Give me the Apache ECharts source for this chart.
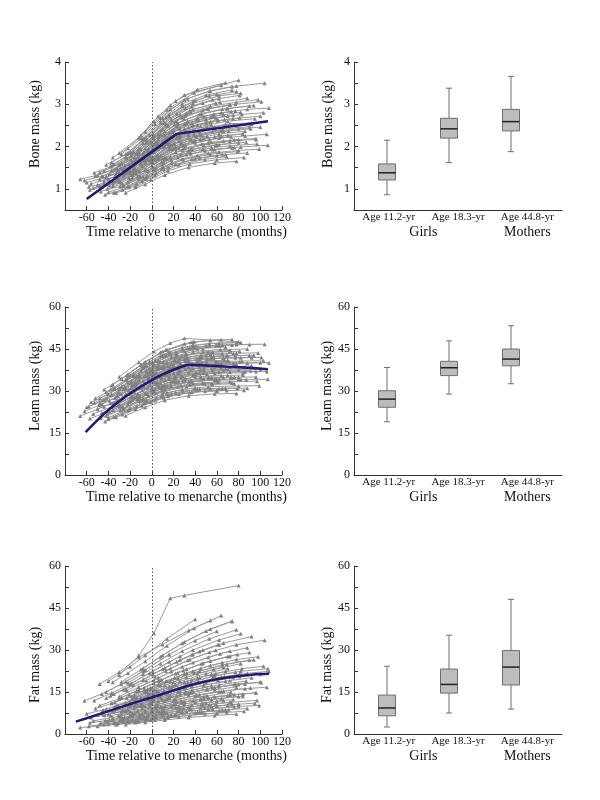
<!DOCTYPE html>
<html><head><meta charset="utf-8">
<script src="https://cdn.jsdelivr.net/npm/echarts@6/dist/echarts.min.js"></script>
<style>html,body{margin:0;padding:0;background:#fff}#c{width:600px;height:800px}</style>
</head><body><div id="c"></div>
<script>
// ---------- data ----------
const boxCategories = ['Age 11.2-yr', 'Age 18.3-yr', 'Age 44.8-yr'];
const groupLabels = {2: 'Girls', 5: 'Mothers'};

// measurement times (months relative to menarche), one row per girl
const girlTimes = [
[-60,-42,-24,-2,22],[-54,-36,-18,4,28,48],[-48,-30,-14,8,32],[-47,-29,-11,11,35,55],
[-44,-26,-8,14,38,58],[-42,-24,-6,16,40,60],[-40,-22,-4,18,42,62],[-39,-21,-3,19,43],
[-38,-20,-2,20,44,64],[-37,-19,-1,21,45,65],[-36,-18,0,22,46,66],[-35,-17,1,23,47],
[-34,-16,2,24,48,68],[-33,-15,3,25,49,69],[-32,-14,4,26,50,70],[-31,-13,5,27,51],
[-30,-12,6,28,52,72],[-29,-11,7,29,53,73],[-28,-10,8,30,54,74],[-27,-9,9,31,55],
[-26,-8,10,32,56,76],[-25,-7,11,33,57,77],[-24,-6,12,34,58,78],[-23,-5,13,35,59],
[-22,-4,14,36,60,80],[-21,-3,15,37,61,81],[-20,-2,16,38,62,82],[-18,0,18,40,64,84],
[-16,2,20,42,66],[-14,4,22,44,68,88],[-12,6,24,46,70,90],[-10,8,26,48,72,92],
[-8,10,28,50,74],[-6,12,30,52,76,96],[-4,14,32,54,78,98],[-2,16,34,56,80,100],
[1,19,37,59,83,103],[4,22,40,62,86,106],[6,24,42,64,88,108],[-52,-34,-16,6,30],
[-57,-39,-21,1,25],[-48,-30,-12,10,34,54],[-30,-12,2,17,30,80],[-24,-6,12,34,58,78],
[-50,-36,-20,0,25],[-45,-31,-15,5,30,55],[-41,-27,-11,9,34,59],[-38,-24,-8,12,37,62],
[-35,-21,-5,15,40,65],[-33,-19,-3,17,42,67],[-30,-16,0,20,45,70],[-28,-14,2,22,47,72],
[-26,-12,4,24,49,74],[-24,-10,6,26,51,76],[-22,-8,8,28,53,78],[-20,-6,10,30,55,80],
[-18,-4,12,32,57,82],[-15,-1,15,35,60,85],[-12,2,18,38,63,88],[-9,5,21,41,66,91],
[-6,8,24,44,69,94],[-3,11,27,47,72,97],[0,14,30,50,75,100],[3,17,33,53,78,104],
[8,22,38,58,84],[-62,-46,-28,-8,16],[-58,-44,-26,-6,18],[-66,-50,-32,-12,12],
[-40,-20,-6,14,40],[-5,10,28,52,80,99],[-36,-22,-6,14,39,64],[-16,0,16,36,62,86],
[-44,-28,-10,10,36],[10,26,44,66,92],
[-34,-20,-4,16,44],[-25,-11,5,25,50,75],[-46,-30,-14,6,31],[-19,-5,11,31,56,81],
[-13,1,17,37,62,87],[-7,9,25,45,70,95],[-43,-27,-9,11,37,60],[-53,-37,-19,1,26],
[-31,-15,1,21,46,71],[-10,6,22,42,68],[12,28,48,72,96],[-37,-23,-7,13,38],
[-21,-7,9,29,54,79],[-56,-40,-22,-2,23],[-1,15,31,51,77,101],[-29,-13,3,23,48,73],
[-42,-26,-8,12,38,61],[-17,-1,17,39,65,90],[2,18,36,58,82,107],[-48,-34,-18,2,27]
];
const boneValues = [
[1.15,1.28,1.46,1.88,2.30],[1.02,1.13,1.33,1.71,2.05,2.19],[1.39,1.58,1.86,2.38,2.78],[0.94,1.06,1.28,1.63,1.87,1.97],
[1.20,1.36,1.68,2.06,2.37,2.47],[1.57,1.82,2.21,2.76,3.09,3.24],[0.92,1.07,1.31,1.61,1.79,1.88],[1.35,1.58,1.94,2.38,2.64],
[1.18,1.38,1.69,2.07,2.28,2.38],[1.44,1.69,2.07,2.52,2.77,2.89],[1.07,1.26,1.55,1.87,2.06,2.13],[1.59,1.88,2.30,2.78,3.03],
[1.29,1.50,1.87,2.24,2.41,2.53],[0.90,1.07,1.32,1.57,1.70,1.76],[1.40,1.67,2.05,2.43,2.64,2.72],[1.21,1.44,1.77,2.08,2.25],
[1.56,1.88,2.29,2.69,2.89,2.99],[1.17,1.41,1.72,2.02,2.16,2.23],[1.82,2.19,2.67,3.11,3.32,3.42],[1.39,1.67,2.04,2.36,2.51],
[1.07,1.29,1.58,1.81,1.93,1.98],[1.55,1.88,2.28,2.60,2.77,2.84],[1.37,1.67,2.01,2.28,2.43,2.49],[1.72,2.10,2.53,2.85,3.03],
[1.16,1.43,1.71,1.93,2.04,2.09],[1.51,1.85,2.21,2.48,2.61,2.68],[1.86,2.28,2.71,3.02,3.20,3.26],[1.33,1.64,1.94,2.14,2.25,2.30],
[1.67,2.05,2.40,2.63,2.76],[1.12,1.37,1.58,1.73,1.81,1.85],[1.83,2.23,2.56,2.78,2.90,2.96],[1.60,1.99,2.27,2.42,2.54,2.56],
[2.19,2.67,3.01,3.22,3.34],[1.45,1.74,1.96,2.08,2.16,2.19],[2.09,2.50,2.78,2.95,3.05,3.11],[1.69,2.01,2.21,2.35,2.42,2.46],
[1.99,2.33,2.55,2.68,2.76,2.80],[1.67,1.94,2.09,2.20,2.25,2.29],[2.17,2.50,2.68,2.80,2.88,2.91],[1.31,1.47,1.75,2.23,2.65],
[0.98,1.08,1.27,1.62,1.97],[1.22,1.39,1.67,2.12,2.45,2.58],[1.85,2.21,2.60,2.98,3.22,3.57],[0.91,1.11,1.33,1.51,1.61,1.65],
[1.09,1.20,1.38,1.73,2.13],[1.30,1.44,1.68,2.11,2.53,2.71],[1.00,1.12,1.31,1.64,1.91,2.04],[1.55,1.75,2.08,2.56,2.95,3.13],
[0.91,1.04,1.24,1.51,1.71,1.81],[1.35,1.54,1.85,2.24,2.51,2.64],[1.19,1.37,1.64,1.96,2.17,2.27],[1.59,1.83,2.19,2.60,2.86,2.99],
[1.07,1.24,1.48,1.74,1.90,1.97],[1.41,1.60,1.95,2.23,2.46,2.52],[1.85,2.16,2.57,2.96,3.20,3.30],[1.23,1.45,1.72,1.96,2.10,2.17],
[1.63,1.91,2.26,2.55,2.72,2.81],[1.04,1.22,1.43,1.59,1.69,1.74],[1.94,2.27,2.62,2.88,3.05,3.14],[1.54,1.80,2.06,2.24,2.36,2.42],
[1.96,2.28,2.56,2.76,2.90,2.97],[1.41,1.63,1.81,1.94,2.02,2.06],[1.91,2.18,2.42,2.56,2.66,2.72],[2.54,2.88,3.13,3.31,3.43,3.50],
[1.78,1.98,2.12,2.23,2.30],[1.20,1.30,1.49,1.83,2.33],[1.05,1.13,1.30,1.62,2.04],[1.23,1.32,1.50,1.83,2.36],
[1.23,1.44,1.71,2.07,2.39],[1.29,1.52,1.71,1.84,1.91,1.94],[1.74,1.96,2.35,2.87,3.27,3.45],[1.40,1.67,1.95,2.16,2.30,2.36],
[1.43,1.62,1.94,2.42,2.82],[1.98,2.21,2.35,2.46,2.52],
[1.25,1.42,1.71,2.08,2.35],[1.50,1.73,2.07,2.42,2.64,2.74],[1.04,1.16,1.36,1.71,2.03],[1.85,2.17,2.57,2.91,3.11,3.21],
[1.29,1.51,1.75,1.94,2.05,2.10],[1.73,2.06,2.31,2.48,2.60,2.66],[0.86,0.98,1.18,1.47,1.70,1.79],[1.38,1.53,1.79,2.24,2.75],
[1.23,1.44,1.73,2.06,2.27,2.37],[2.27,2.72,3.08,3.35,3.51],[1.72,1.92,2.04,2.13,2.17],[1.63,1.83,2.18,2.69,3.07],
[1.07,1.24,1.48,1.69,1.82,1.88],[1.12,1.23,1.41,1.79,2.21],[2.12,2.48,2.73,2.89,3.00,3.06],[1.49,1.76,2.11,2.49,2.72,2.83],
[1.28,1.45,1.76,2.17,2.50,2.64],[1.44,1.73,2.04,2.28,2.41,2.47],[1.45,1.68,1.83,1.93,1.99,2.03],[1.07,1.18,1.36,1.71,2.08]
];
const leanValues = [
[24.2,27.2,31.1,36.5,40.5],[21.8,24.5,28.2,32.6,35.4,36.4],[27.4,31.1,35.2,40.3,43.2],[20.4,23.1,26.6,30.1,32.1,32.7],
[24.4,27.9,31.9,35.8,38.0,38.6],[29.6,34.0,38.8,43.3,45.7,46.3],[20.0,23.0,26.2,29.0,30.6,30.9],[26.5,30.4,34.6,38.3,40.1],
[25.6,29.0,33.4,36.4,38.4,38.3],[28.7,32.9,37.4,41.1,42.8,43.3],[23.2,26.7,30.2,33.1,34.5,34.8],[30.7,35.3,39.9,43.5,45.2],
[25.7,29.5,33.2,36.3,37.5,37.9],[20.6,23.6,26.6,28.9,30.0,30.2],[28.2,32.4,36.4,39.3,40.7,41.0],[25.2,29.0,32.4,35.0,36.1],
[30.8,35.3,39.4,42.5,43.8,44.1],[24.5,28.2,31.3,33.7,34.7,34.8],[34.3,39.4,43.8,46.9,48.1,48.4],[27.5,31.9,35.0,37.8,38.3],
[23.4,26.8,29.7,31.6,32.3,32.6],[30.9,35.3,38.9,41.5,42.4,42.7],[28.9,32.9,36.3,38.5,39.4,39.6],[34.2,39.1,42.8,45.4,46.3],
[25.3,28.9,31.5,33.4,34.0,34.1],[30.2,34.3,37.4,39.4,40.1,40.4],[35.6,40.5,44.0,46.4,47.1,47.3],[27.3,30.9,33.4,35.1,35.5,35.7],
[32.5,36.6,39.5,41.3,41.8],[24.5,27.4,29.4,30.6,31.0,31.0],[34.1,38.1,40.7,42.1,42.6,42.7],[31.3,35.2,37.0,38.5,38.6,39.0],
[38.3,42.4,44.8,46.1,46.4],[29.1,32.0,33.8,34.6,34.9,35.0],[36.7,40.1,42.1,43.1,43.5,43.6],[32.2,35.0,36.6,37.3,37.6,37.7],
[35.5,38.3,39.8,40.5,40.7,40.8],[32.6,35.0,36.2,36.7,36.9,37.0],[35.6,38.1,39.3,39.8,40.0,40.1],[27.4,30.9,35.5,40.8,44.3],
[20.2,22.7,26.1,30.4,33.4],[25.7,29.2,33.5,38.1,40.7,41.6],[35.1,40.3,44.1,47.1,48.8,47.6],[21.2,24.2,26.7,28.3,29.0,29.1],
[23.7,25.6,29.4,33.5,37.2],[26.7,29.5,33.3,38.0,41.3,42.4],[21.9,24.4,27.5,30.9,33.2,34.0],[30.5,34.0,38.3,42.7,45.5,46.3],
[20.8,23.2,26.1,28.8,30.5,30.9],[28.0,31.2,35.0,38.4,40.5,41.0],[24.8,27.7,30.9,33.7,35.2,35.6],[31.5,35.2,39.0,42.3,44.0,44.5],
[23.7,26.4,29.2,31.5,32.6,32.9],[28.9,32.1,35.3,37.8,39.2,39.6],[35.1,38.9,42.7,45.5,47.0,47.3],[26.3,29.1,31.8,33.8,34.7,34.9],
[32.1,35.4,38.4,40.6,41.6,41.9],[23.6,26.1,28.1,29.5,30.1,30.3],[36.0,39.3,42.1,44.1,44.8,45.0],[30.4,33.1,35.2,36.6,37.2,37.2],
[35.5,38.5,40.7,42.0,42.6,42.8],[28.4,30.4,32.0,32.9,33.3,33.5],[34.6,36.9,38.6,39.6,39.9,40.1],[40.9,43.4,45.2,46.2,46.6,46.7],
[32.9,34.6,35.7,36.3,36.5],[22.8,25.3,28.8,33.5,37.9],[24.5,26.8,30.7,35.5,39.9],[21.1,23.5,26.6,31.0,35.6],
[20.5,23.9,26.5,29.4,31.2],[26.7,28.9,30.6,31.5,31.8,31.9],[32.3,36.0,40.4,44.8,47.6,48.3],[30.3,33.4,36.2,37.7,38.8,38.6],
[30.5,34.3,39.4,44.1,47.4],[38.1,40.1,41.3,41.8,41.9],
[24.9,27.7,31.2,34.3,36.3],[31.5,35.1,38.6,41.5,43.0,43.4],[22.2,24.8,28.2,31.8,34.6],[33.5,37.2,40.4,42.9,43.9,44.2],
[27.1,29.7,31.9,33.4,34.0,34.1],[31.5,34.4,36.3,37.5,37.9,38.1],[19.1,21.6,24.7,27.6,29.6,30.1],[25.8,28.7,32.9,37.9,41.6],
[28.1,31.8,35.5,38.5,40.2,40.6],[37.2,40.8,43.4,45.1,45.7],[33.8,35.4,36.4,36.8,37.0],[32.0,35.6,40.1,44.6,47.5],
[23.2,25.7,28.1,29.9,30.8,31.0],[26.0,28.8,33.1,38.2,42.4],[36.1,38.9,40.6,41.5,41.9,42.0],[24.5,27.7,30.7,33.2,34.5,34.8],
[21.2,24.0,27.4,30.6,32.7,33.2],[35.9,40.1,43.4,45.6,46.4,46.6],[29.8,31.9,33.4,34.0,34.1,34.2],[25.0,27.5,31.2,35.6,39.1]
];
const fatValues = [
[7.2,8.9,11.1,14.2,17.6],[4.7,5.9,7.3,9.2,11.3,12.6],[10.2,12.6,15.4,19.2,23.2],[3.9,4.8,5.9,7.4,8.9,9.8],
[6.7,8.3,10.2,12.6,15.0,16.6],[15.0,18.7,22.9,28.4,33.4,36.7],[3.5,4.4,5.3,6.5,7.7,8.4],[8.5,10.6,13.0,15.8,18.5],
[6.5,8.0,9.8,12.0,14.0,15.2],[11.0,13.5,16.5,20.1,23.4,25.5],[5.2,6.4,7.8,9.5,11.0,12.0],[14.3,17.5,21.3,25.8,30.0],
[8.3,10.2,12.4,15.1,17.4,18.9],[3.4,4.2,5.1,6.2,7.2,7.7],[10.4,13.0,15.5,18.8,21.6,23.4],[6.6,8.2,9.9,11.9,13.7],
[13.4,16.7,20.1,24.0,27.4,29.6],[5.2,6.4,7.7,9.2,10.5,11.4],[18.6,23.0,27.6,32.9,37.5,40.3],[8.6,10.6,12.7,15.1,17.2],
[4.6,5.6,6.7,8.0,9.0,9.7],[10.5,12.9,15.4,18.3,20.6,22.1],[8.1,9.9,11.8,14.0,15.8,16.8],[15.5,19.1,22.5,26.6,29.9],
[5.2,6.4,7.6,8.9,10.0,10.7],[10.1,12.4,14.7,17.1,19.3,20.5],[17.8,21.8,25.8,30.0,33.6,35.8],[6.8,8.3,9.8,11.4,12.7,13.5],
[13.0,15.8,18.6,21.6,23.9],[4.8,5.8,6.8,7.8,8.6,9.1],[15.7,18.9,21.9,25.1,27.7,29.1],[11.0,13.2,15.3,17.4,19.1,20.1],
[23.5,28.1,32.4,36.8,40.3],[8.3,9.9,11.4,12.9,14.1,14.7],[16.1,18.9,21.8,24.5,26.6,27.6],[10.8,13.0,14.6,16.5,17.7,18.6],
[14.6,17.2,19.4,21.6,23.3,24.2],[10.4,12.2,13.7,15.1,16.2,16.7],[14.2,16.4,18.5,20.3,21.7,22.4],[9.1,11.3,14.0,17.7,21.5],
[4.0,5.0,6.2,7.8,9.7],[17.9,22.1,27.4,32.0,37.0,40.5],[21.0,28.0,36.0,48.5,49.5,53.0],[3.4,4.2,5.0,5.9,6.6,7.1],
[6.8,8.1,9.8,12.2,15.2],[8.6,10.1,12.2,15.2,18.6,21.3],[4.5,5.3,6.4,7.9,9.6,10.8],[13.7,16.2,19.4,23.6,28.3,31.9],
[3.8,4.4,5.3,6.4,7.6,8.5],[9.1,10.8,13.0,15.6,18.5,20.5],[6.3,7.4,8.9,10.6,12.5,13.8],[13.0,15.4,18.1,21.6,25.3,27.8],
[5.0,5.9,6.9,8.2,9.5,10.5],[8.4,10.1,11.7,14.0,16.0,17.7],[18.3,21.4,25.2,29.6,34.0,37.2],[6.7,7.8,9.2,10.7,12.3,13.4],
[12.7,15.0,17.4,20.3,23.1,25.1],[4.2,5.0,5.8,6.7,7.5,8.1],[16.7,19.2,22.3,25.5,28.7,30.8],[9.1,10.5,12.1,13.8,15.4,16.4],
[15.1,17.4,19.9,22.5,24.9,26.5],[7.0,8.0,9.1,10.3,11.3,12.0],[12.8,14.5,16.4,18.4,20.2,21.3],[20.5,23.4,26.3,29.2,31.9,33.5],
[9.6,10.8,12.0,13.3,14.3],[11.9,14.3,17.8,22.4,28.4],[2.8,3.4,4.2,5.2,6.6],[2.3,2.8,3.5,4.4,5.6],
[18.9,24.0,28.1,34.0,41.0],[5.8,6.7,7.8,8.9,9.8,10.2],[18.5,21.8,26.0,31.5,37.8,42.3],[9.4,11.0,13.0,14.8,16.9,17.9],
[6.8,8.0,10.1,12.1,15.0],[23.2,26.4,29.5,32.5,34.8],
[9.8,11.6,13.8,16.8,20.2],[5.9,6.9,8.2,9.7,11.2,12.3],[7.5,9.1,11.0,13.6,16.6],[10.8,12.7,14.8,17.3,19.7,21.4],
[10.2,11.8,13.7,15.6,17.6,18.9],[6.2,7.3,8.3,9.4,10.4,11.0],[4.8,5.7,7.1,8.6,10.4,11.7],[12.0,14.6,18.0,22.4,27.8],
[3.9,4.7,5.6,6.7,7.9,8.7],[13.0,15.3,17.6,20.0,22.4],[9.9,11.3,12.6,13.9,14.7],[11.0,12.9,15.5,18.8,22.5],
[14.1,16.5,19.4,22.7,26.1,28.4],[5.9,7.0,8.6,10.9,13.5],[11.1,12.7,14.5,16.0,17.8,18.4],[6.8,8.2,9.7,11.6,13.4,14.9],
[12.9,15.8,19.4,23.6,28.5,31.9],[13.3,16.0,18.9,21.9,24.7,26.4],[14.1,16.4,18.5,20.8,22.4,23.3],[3.5,4.1,5.0,6.2,7.7]
];

// fitted mean curves
const boneFitT = [-60, 23, 107];
const boneFitV = [0.76, 2.30, 2.60];
const leanFitT = [-61,-48,-40,-30,-20,-10,0,10,20,30,35,50,70,90,107];
const leanFitV = [15.3,20.4,23.2,26.3,29.1,31.6,33.9,35.9,37.6,39.0,39.4,39.1,38.7,38.3,37.8];
const fatFitT = [-70,-50,-30,-10,0,10,20,30,40,50,60,70,80,90,100,108];
const fatFitV = [4.4,6.9,9.4,11.9,13.1,14.3,15.6,16.8,17.9,18.8,19.6,20.2,20.7,21.1,21.4,21.5];

// box plots: [min, Q1, median, Q3, max]
const boneBox = [[0.86,1.21,1.38,1.59,2.15],[1.62,2.20,2.42,2.67,3.38],[1.88,2.37,2.59,2.88,3.66]];
const leanBox = [[19.0,24.2,27.1,30.1,38.4],[28.9,35.5,38.3,40.6,47.9],[32.6,39.0,41.4,45.0,53.3]];
const fatBox  = [[2.5,6.5,9.3,13.9,24.2],[7.5,14.6,17.7,23.2,35.3],[8.9,17.5,23.9,29.8,48.1]];

// ---------- chart ----------
const FONT = 'Liberation Serif';
const TXT = '#111';
const AX = '#333';
const rows = [
  {name:'Bone mass (kg)', min:0.5, max:4, interval:0.5, step:1, values:boneValues, fitT:boneFitT, fitV:boneFitV, smooth:false, box:boneBox, top:62, height:148, shift:-12},
  {name:'Leam mass (kg)', min:0, max:60, interval:7.5, step:15, values:leanValues, fitT:leanFitT, fitV:leanFitV, smooth:true, box:leanBox, top:307, height:168, shift:-5},
  {name:'Fat mass (kg)', min:0, max:60, interval:7.5, step:15, values:fatValues, fitT:fatFitT, fitV:fatFitV, smooth:true, box:fatBox, top:566, height:168, shift:15}
];

const grid = [], xAxis = [], yAxis = [], series = [];
const axisLineStyle = {show:true, onZero:false, lineStyle:{color:AX, width:1}};

rows.forEach((r, ri) => {
  const gL = grid.length;
  grid.push({left:65, width:217, top:r.top, height:r.height});
  const gR = grid.length;
  grid.push({left:354, width:208, top:r.top, height:r.height});
  const gB = grid.length;
  grid.push({left:356, width:186, top:r.top, height:r.height});

  const yFmt = v => (Math.abs(v / r.step - Math.round(v / r.step)) < 1e-6) ? String(v) : '';
  const namePad = r.shift < 0 ? [0,0,0,-2*r.shift] : [0,2*r.shift,0,0];
  const yBase = (gi, gap) => ({
    type:'value', gridIndex:gi, position:'left', min:r.min, max:r.max, interval:r.interval,
    axisLine:axisLineStyle, splitLine:{show:false},
    axisTick:{show:true, inside:true, length:4, lineStyle:{color:AX}},
    axisLabel:{formatter:yFmt, fontFamily:FONT, fontSize:12, color:TXT, margin:4},
    name:r.name, nameLocation:'middle', nameGap:gap,
    nameTextStyle:{fontFamily:FONT, fontSize:14, color:TXT, padding:namePad}
  });

  // left panel axes
  const xL = xAxis.length;
  xAxis.push({
    type:'value', gridIndex:gL, position:'bottom', min:-80, max:120, interval:20,
    axisLine:axisLineStyle, splitLine:{show:false},
    axisTick:{show:true, inside:true, length:4, lineStyle:{color:AX}},
    axisLabel:{formatter:v => v === -80 ? '' : String(v), fontFamily:FONT, fontSize:12, color:TXT, margin:2},
    name:'Time relative to menarche (months)', nameLocation:'middle', nameGap:14,
    nameTextStyle:{fontFamily:FONT, fontSize:14, color:TXT, padding:[0,0,0,26]}
  });
  const yL = yAxis.length;
  yAxis.push(yBase(gL, 23));

  // right panel axes
  xAxis.push({
    type:'category', gridIndex:gR, position:'bottom', data:boxCategories, boundaryGap:true,
    axisLine:axisLineStyle, axisTick:{show:false},
    axisLabel:{fontFamily:FONT, fontSize:11, color:TXT, margin:2}
  });
  xAxis.push({
    type:'value', gridIndex:gR, position:'bottom', offset:0, min:0, max:6, interval:1,
    axisLine:{show:false, onZero:false}, axisTick:{show:false}, splitLine:{show:false},
    axisLabel:{formatter:v => groupLabels[v] || '', fontFamily:FONT, fontSize:14, color:TXT, margin:15}
  });
  yAxis.push(yBase(gR, 19));

  // hidden axes for box positions
  const xB = xAxis.length;
  xAxis.push({type:'category', gridIndex:gB, position:'bottom', data:boxCategories, boundaryGap:true, show:false});
  const yB = yAxis.length;
  yAxis.push({type:'value', gridIndex:gB, min:r.min, max:r.max, show:false, splitLine:{show:false}});

  // individual trajectories
  girlTimes.forEach((ts, i) => {
    const s = {
      type:'line', xAxisIndex:xL, yAxisIndex:yL,
      data: ts.map((t, j) => [t, r.values[i][j]]),
      symbol:'triangle', symbolSize:4, showSymbol:true,
      itemStyle:{color:'#808080'},
      lineStyle:{color:'#9a9a9a', width:1},
      silent:true, z:2, animation:false, emphasis:{disabled:true}
    };
    if (i === 0) {
      s.markLine = {
        symbol:'none', silent:true, animation:false, label:{show:false},
        lineStyle:{type:[1.5,2], color:'#555', width:1},
        data:[{xAxis:0}]
      };
    }
    series.push(s);
  });

  // fitted curve
  series.push({
    type:'line', xAxisIndex:xL, yAxisIndex:yL,
    data: r.fitT.map((t, j) => [t, r.fitV[j]]),
    symbol:'none', smooth:r.smooth ? 0.3 : false,
    lineStyle:{color:'#1b1b78', width:2.5},
    silent:true, z:5, animation:false
  });

  // box plots
  series.push({
    type:'custom', xAxisIndex:xB, yAxisIndex:yB,
    data: r.box.map((b, i) => [i].concat(b)),
    encode:{x:0, y:[1,2,3,4,5]},
    silent:true, animation:false, z:3,
    renderItem: (params, api) => {
      const c = api.value(0);
      const pMin = api.coord([c, api.value(1)]);
      const pQ1 = api.coord([c, api.value(2)]);
      const pMed = api.coord([c, api.value(3)]);
      const pQ3 = api.coord([c, api.value(4)]);
      const pMax = api.coord([c, api.value(5)]);
      const x = pMed[0], w = 17, cap = 6;
      const wl = {stroke:'#6e6e6e', lineWidth:1};
      return {type:'group', children:[
        {type:'line', shape:{x1:x, y1:pMax[1], x2:x, y2:pQ3[1]}, style:wl},
        {type:'line', shape:{x1:x, y1:pQ1[1], x2:x, y2:pMin[1]}, style:wl},
        {type:'line', shape:{x1:x-cap/2, y1:pMax[1], x2:x+cap/2, y2:pMax[1]}, style:wl},
        {type:'line', shape:{x1:x-cap/2, y1:pMin[1], x2:x+cap/2, y2:pMin[1]}, style:wl},
        {type:'rect', shape:{x:x-w/2, y:pQ3[1], width:w, height:pQ1[1]-pQ3[1]}, style:{fill:'#bdbdbd', stroke:'#6e6e6e', lineWidth:1}},
        {type:'line', shape:{x1:x-w/2, y1:pMed[1], x2:x+w/2, y2:pMed[1]}, style:{stroke:'#222', lineWidth:1.5}}
      ]};
    }
  });
});

const chart = echarts.init(document.getElementById('c'), null, {renderer:'canvas'});
chart.setOption({
  backgroundColor:'#fff',
  animation:false,
  textStyle:{fontFamily:FONT},
  grid, xAxis, yAxis, series
});
</script>
</body></html>
